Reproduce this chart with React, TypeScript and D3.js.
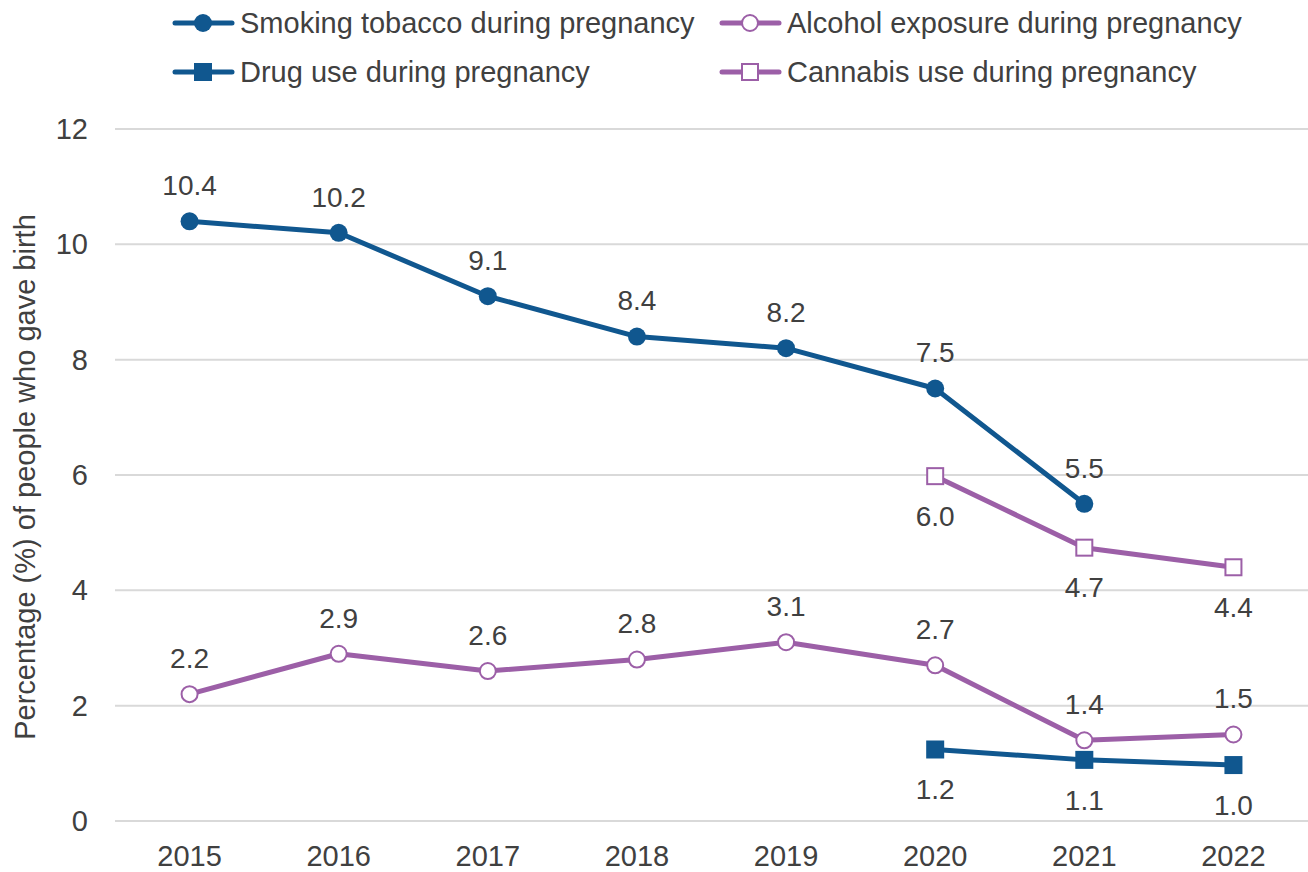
import React from "react";
import * as d3 from "d3";

const years = ["2015", "2016", "2017", "2018", "2019", "2020", "2021", "2022"];
const smoking: (number | null)[] = [10.4, 10.2, 9.1, 8.4, 8.2, 7.5, 5.5, null];
const alcohol: (number | null)[] = [2.2, 2.9, 2.6, 2.8, 3.1, 2.7, 1.4, 1.5];
const drug: (number | null)[] = [null, null, null, null, null, 1.24, 1.06, 0.97];
const cannabis: (number | null)[] = [null, null, null, null, null, 5.98, 4.74, 4.4];
const yTicks = [0, 2, 4, 6, 8, 10, 12];

const BLUE = "#10578f";
const PURPLE = "#9c5fa7";
const TEXT = "#404040";
const FONT = "'Liberation Sans', Arial, sans-serif";

type Series = {
  name: string;
  values: (number | null)[];
  color: string;
  shape: "circle" | "square";
  filled: boolean;
  labelPos: "above" | "below";
};

const series: Series[] = [
  { name: "Smoking tobacco during pregnancy", values: smoking, color: BLUE, shape: "circle", filled: true, labelPos: "above" },
  { name: "Alcohol exposure during pregnancy", values: alcohol, color: PURPLE, shape: "circle", filled: false, labelPos: "above" },
  { name: "Drug use during pregnancy", values: drug, color: BLUE, shape: "square", filled: true, labelPos: "below" },
  { name: "Cannabis use during pregnancy", values: cannabis, color: PURPLE, shape: "square", filled: false, labelPos: "below" },
];

const W = 1308;
const H = 872;
const left = 115;
const right = 1308;
const top = 129;
const bottom = 821;

function Marker({ s, x, y }: { s: Series; x: number; y: number }) {
  const fill = s.filled ? s.color : "#ffffff";
  if (s.shape === "circle") {
    return <circle cx={x} cy={y} r={s.filled ? 9 : 8} fill={fill} stroke={s.color} strokeWidth={s.filled ? 0 : 2} />;
  }
  const sz = s.filled ? 18 : 16;
  return <rect x={x - sz / 2} y={y - sz / 2} width={sz} height={sz} fill={fill} stroke={s.color} strokeWidth={s.filled ? 0 : 2} />;
}

export default function App() {
  const x = d3.scaleBand<string>().domain(years).range([left, right]);
  const y = d3.scaleLinear().domain([0, 12]).range([bottom, top]);
  const cx = (yr: string) => (x(yr) ?? 0) + x.bandwidth() / 2;

  const line = d3
    .line<number | null>()
    .defined((d) => d !== null)
    .x((_, i) => cx(years[i]))
    .y((d) => y(d as number));

  const legendItems = [
    { s: series[0], lx: 175, ly: 23 },
    { s: series[1], lx: 722, ly: 23 },
    { s: series[2], lx: 175, ly: 72 },
    { s: series[3], lx: 722, ly: 72 },
  ];

  return (
    <svg width={W} height={H} style={{ position: "absolute", left: 0, top: 0, background: "#fff" }} fontFamily={FONT}>
      {yTicks.map((t) => (
        <g key={t}>
          <line x1={left} x2={right} y1={y(t)} y2={y(t)} stroke="#d9d9d9" strokeWidth={2} />
          <text x={88} y={y(t)} dy="0.35em" textAnchor="end" fontSize={29} fill={TEXT}>
            {t}
          </text>
        </g>
      ))}
      {years.map((yr) => (
        <text key={yr} x={cx(yr)} y={856} dy="0.35em" textAnchor="middle" fontSize={29} fill={TEXT}>
          {yr}
        </text>
      ))}
      <text
        transform={`translate(25, 477) rotate(-90)`}
        textAnchor="middle"
        dy="0.35em"
        fontSize={29}
        fill={TEXT}
      >
        Percentage (%) of people who gave birth
      </text>

      {series.map((s) => (
        <path key={s.name} d={line(s.values) ?? ""} fill="none" stroke={s.color} strokeWidth={5} strokeLinejoin="round" />
      ))}
      {series.map((s) =>
        s.values.map((v, i) =>
          v === null ? null : (
            <g key={s.name + i}>
              <Marker s={s} x={cx(years[i])} y={y(v)} />
              <text
                x={cx(years[i])}
                y={y(v) + (s.labelPos === "above" ? -36 : 40)}
                dy="0.35em"
                textAnchor="middle"
                fontSize={28}
                fill={TEXT}
              >
                {v.toFixed(1)}
              </text>
            </g>
          )
        )
      )}

      {legendItems.map(({ s, lx, ly }) => (
        <g key={s.name}>
          <line x1={lx} x2={lx + 57} y1={ly} y2={ly} stroke={s.color} strokeWidth={5} strokeLinecap="round" />
          <Marker s={s} x={lx + 28} y={ly} />
          <text x={lx + 65} y={ly} dy="0.35em" fontSize={29} fill={TEXT}>
            {s.name}
          </text>
        </g>
      ))}
    </svg>
  );
}
